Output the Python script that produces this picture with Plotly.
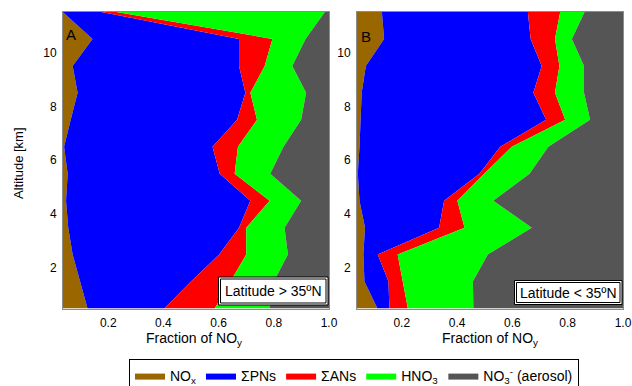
import plotly.graph_objects as go

W, H = 632, 386

altitude = [0.5, 1.5, 2.5, 3.5, 4.5, 5.5, 6.5, 7.5, 8.5, 9.5, 10.5, 11.5]

# Panel A (Latitude > 35ºN) – fractions of NOy
nox_a = [0.125, 0.098, 0.071, 0.055, 0.047, 0.053, 0.040, 0.064, 0.089, 0.071, 0.143, 0.035]
pns_a = [0.278, 0.402, 0.531, 0.619, 0.668, 0.551, 0.538, 0.603, 0.608, 0.603, 0.531, 0.141]
ans_a = [0.183, 0.143, 0.098, 0.026, 0.070, 0.054, 0.092, 0.072, 0.018, 0.093, 0.121, 0.054]
hno3_a = [0.199, 0.157, 0.151, 0.139, 0.114, 0.129, 0.165, 0.160, 0.202, 0.100, 0.120, 0.755]
aer_a = [0.215, 0.200, 0.149, 0.161, 0.101, 0.213, 0.165, 0.101, 0.083, 0.133, 0.085, 0.015]

# Panel B (Latitude < 35ºN)
nox_b = [0.112, 0.065, 0.061, 0.067, 0.047, 0.041, 0.047, 0.052, 0.055, 0.070, 0.136, 0.128]
pns_b = [0.043, 0.087, 0.052, 0.268, 0.306, 0.440, 0.509, 0.670, 0.621, 0.636, 0.530, 0.528]
ans_b = [0.067, 0.052, 0.072, 0.092, 0.048, 0.017, 0.042, 0.069, 0.078, 0.064, 0.088, 0.117]
hno3_b = [0.237, 0.253, 0.326, 0.243, 0.130, 0.164, 0.132, 0.090, 0.105, 0.089, 0.061, 0.088]
aer_b = [0.541, 0.543, 0.489, 0.330, 0.469, 0.338, 0.270, 0.119, 0.141, 0.141, 0.185, 0.139]

names = ["NO<sub>x</sub>", "ΣPNs", "ΣANs", "HNO<sub>3</sub>", "NO<sub>3</sub><sup>-</sup> (aerosol)"]
colors = ["#996600", "#0000ff", "#ff0000", "#00ff00", "#555555"]

x_ticks = [0.2, 0.4, 0.6, 0.8, 1.0]
x_ticklabels = ["0.2", "0.4", "0.6", "0.8", "1.0"]
y_ticks = [2, 4, 6, 8, 10]

FONT = "Liberation Sans, Arial, sans-serif"

fig = go.Figure()
panels = [
    ("A", [nox_a, pns_a, ans_a, hno3_a, aer_a], "x", "y", True),
    ("B", [nox_b, pns_b, ans_b, hno3_b, aer_b], "x2", "y2", False),
]
for key, series, xa, ya, show in panels:
    for vals, name, col in zip(series, names, colors):
        fig.add_trace(go.Scatter(
            x=vals, y=altitude, stackgroup=key, orientation="h",
            mode="lines", line=dict(width=0, color=col), fillcolor=col,
            name=name, legendgroup=name, showlegend=show,
            xaxis=xa, yaxis=ya, hoverinfo="skip",
        ))

def px(x):
    return x / W

def py(y):
    return 1 - y / H

ydom = [py(308.5), py(12)]
axis_common = dict(
    showgrid=False, zeroline=False, showline=True, mirror=True,
    linecolor="#8c8c8c", linewidth=1, ticks="",
    tickfont=dict(family=FONT, size=12, color="#000"),
)
fig.update_layout(
    xaxis=dict(domain=[px(63), px(329)], range=[0.036, 1.0], anchor="y",
               tickvals=x_ticks, ticktext=x_ticklabels, ticklabelstandoff=3, **axis_common),
    yaxis=dict(domain=ydom, range=[0.5, 11.5], anchor="x",
               tickvals=y_ticks, ticklabelstandoff=3, **axis_common),
    xaxis2=dict(domain=[px(357), px(623)], range=[0.038, 1.0], anchor="y2",
                tickvals=x_ticks, ticktext=x_ticklabels, ticklabelstandoff=3, **axis_common),
    yaxis2=dict(domain=ydom, range=[0.5, 11.5], anchor="x2",
                tickvals=y_ticks, ticklabelstandoff=3, **axis_common),
    width=W, height=H, margin=dict(l=0, r=0, t=0, b=0, autoexpand=False),
    paper_bgcolor="white", plot_bgcolor="white",
    font=dict(family=FONT, color="#000"),
    legend=dict(orientation="h", x=px(354), xanchor="center", y=py(359), yanchor="top",
                bordercolor="#000", borderwidth=1, bgcolor="white",
                font=dict(family=FONT, size=14), traceorder="normal",
                itemwidth=30, tracegroupgap=0),
)

annotations = [
    dict(text="Altitude [km]", x=px(19), y=py(163), textangle=-90, font=dict(size=13)),
    dict(text="Fraction of NO<sub>y</sub>", x=px(194), y=py(328), yanchor="top", font=dict(size=14)),
    dict(text="Fraction of NO<sub>y</sub>", x=px(490), y=py(328), yanchor="top", font=dict(size=14)),
    dict(text="A", x=px(70.5), y=py(35), font=dict(size=15)),
    dict(text="B", x=px(366), y=py(36), font=dict(size=15)),
    dict(text="Latitude > 35ºN", x=px(273.5), y=py(291), font=dict(size=14)),
    dict(text="Latitude < 35ºN", x=px(568.5), y=py(292.5), font=dict(size=14)),
]
for a in annotations:
    a.setdefault("yanchor", "middle")
    a.update(xref="paper", yref="paper", showarrow=False, xanchor="center")
    a["font"]["family"] = FONT
    a["font"]["color"] = "#000"
fig.update_layout(annotations=annotations)

boxes = [(218.5, 277, 328, 305), (514.5, 280.5, 622, 304.5)]
shapes = []
for x0, y0, x1, y1 in boxes:
    shapes.append(dict(type="rect", xref="paper", yref="paper", x0=px(x0), x1=px(x1),
                       y0=py(y1), y1=py(y0), line=dict(color="#000", width=1), fillcolor="white"))
    shapes.append(dict(type="rect", xref="paper", yref="paper", x0=px(x0 + 2), x1=px(x1 - 2),
                       y0=py(y1 - 2), y1=py(y0 + 2), line=dict(color="#000", width=1)))
fig.update_layout(shapes=shapes)

fig.write_html("out.html")
